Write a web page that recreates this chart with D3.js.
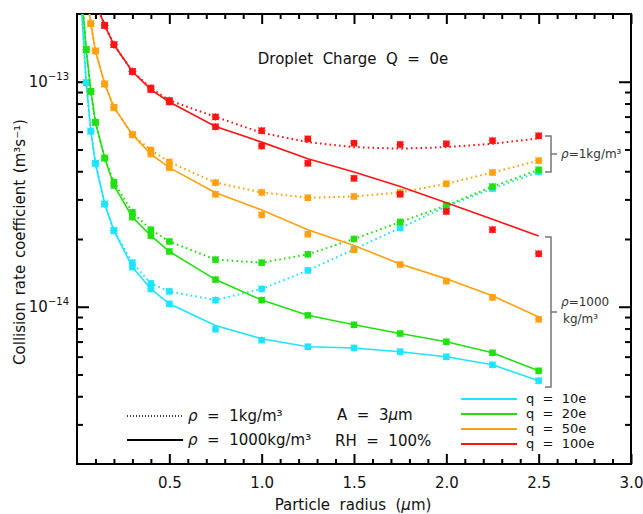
<!DOCTYPE html>
<html>
<head>
<meta charset="utf-8">
<script src="https://cdn.jsdelivr.net/npm/d3@7"></script>
<style>
  body { margin: 0; background: #fff; }
  text { font-family: "DejaVu Sans", sans-serif; fill: #111; white-space: pre; }
</style>
</head>
<body>
<div id="chart"></div>
<script>
// particle radius (um) where the curves were evaluated
const radius = [0.025, 0.05, 0.075, 0.1, 0.15, 0.2, 0.3, 0.4, 0.5, 0.75, 1.0, 1.25, 1.5, 1.75, 2.0, 2.25, 2.5];

// q = 10e
const cyanSolid    = [2.1e-13, 9.9e-14, 6.03e-14, 4.34e-14, 2.86e-14, 2.18e-14, 1.50e-14, 1.20e-14, 1.03e-14, 8.26e-15, 7.2e-15, 6.64e-15, 6.56e-15, 6.31e-15, 5.99e-15, 5.52e-15, 4.69e-15];
const cyanSolidPts = [null, 9.9e-14, 6.03e-14, 4.34e-14, 2.86e-14, 2.18e-14, 1.50e-14, 1.20e-14, 1.03e-14, 7.94e-15, 7.1e-15, 6.64e-15, 6.56e-15, 6.31e-15, 5.99e-15, 5.52e-15, 4.69e-15];
const cyanDot      = [2.1e-13, 9.9e-14, 6.03e-14, 4.34e-14, 2.86e-14, 2.18e-14, 1.57e-14, 1.27e-14, 1.17e-14, 1.07e-14, 1.20e-14, 1.45e-14, 1.80e-14, 2.24e-14, 2.79e-14, 3.35e-14, 3.97e-14];
const cyanDotPts   = [null, 9.9e-14, 6.03e-14, 4.34e-14, 2.86e-14, 2.18e-14, 1.57e-14, 1.27e-14, 1.17e-14, 1.07e-14, 1.20e-14, 1.45e-14, 1.80e-14, 2.24e-14, 2.79e-14, 3.35e-14, 3.97e-14];

// q = 20e
const greenSolid    = [2.47e-13, 1.39e-13, 9.06e-14, 6.6e-14, 4.58e-14, 3.46e-14, 2.50e-14, 2.07e-14, 1.76e-14, 1.32e-14, 1.07e-14, 9.16e-15, 8.31e-15, 7.60e-15, 6.99e-15, 6.24e-15, 5.19e-15];
const greenSolidPts = [null, 1.39e-13, 9.06e-14, 6.6e-14, 4.58e-14, 3.46e-14, 2.50e-14, 2.07e-14, 1.76e-14, 1.32e-14, 1.07e-14, 9.16e-15, 8.31e-15, 7.60e-15, 6.99e-15, 6.24e-15, 5.19e-15];
const greenDot      = [2.47e-13, 1.39e-13, 9.06e-14, 6.6e-14, 4.58e-14, 3.58e-14, 2.63e-14, 2.20e-14, 1.95e-14, 1.62e-14, 1.57e-14, 1.71e-14, 2.0e-14, 2.38e-14, 2.82e-14, 3.42e-14, 4.06e-14];
const greenDotPts   = [null, 1.39e-13, 9.06e-14, 6.6e-14, 4.58e-14, 3.58e-14, 2.63e-14, 2.20e-14, 1.95e-14, 1.62e-14, 1.57e-14, 1.71e-14, 2.0e-14, 2.38e-14, 2.82e-14, 3.42e-14, 4.06e-14];

// q = 50e
const orangeSolid    = [null, 2.55e-13, 1.81e-13, 1.37e-13, 9.77e-14, 7.69e-14, 5.82e-14, 4.77e-14, 4.15e-14, 3.21e-14, 2.69e-14, 2.20e-14, 1.87e-14, 1.55e-14, 1.33e-14, 1.12e-14, 9.0e-15];
const orangeSolidPts = [null, null, 1.81e-13, 1.37e-13, 9.77e-14, 7.69e-14, 5.82e-14, 4.77e-14, 4.15e-14, 3.16e-14, 2.56e-14, 2.10e-14, 1.79e-14, 1.54e-14, 1.30e-14, 1.10e-14, 8.79e-15];
const orangeDot      = [null, 2.55e-13, 1.81e-13, 1.37e-13, 9.77e-14, 7.69e-14, 5.82e-14, 4.97e-14, 4.40e-14, 3.56e-14, 3.22e-14, 3.05e-14, 3.09e-14, 3.22e-14, 3.52e-14, 3.95e-14, 4.46e-14];
const orangeDotPts   = [null, null, 1.81e-13, 1.37e-13, 9.77e-14, 7.69e-14, 5.82e-14, 4.97e-14, 4.40e-14, 3.56e-14, 3.22e-14, 3.05e-14, 3.09e-14, 3.22e-14, 3.52e-14, 3.95e-14, 4.46e-14];

// q = 100e
const redSolid    = [null, null, null, 2.26e-13, 1.78e-13, 1.46e-13, 1.11e-13, 9.22e-14, 8.13e-14, 6.32e-14, 5.39e-14, 4.55e-14, 3.97e-14, 3.42e-14, 2.90e-14, 2.45e-14, 2.06e-14];
const redSolidPts = [null, null, null, null, 1.78e-13, 1.46e-13, 1.11e-13, 9.22e-14, 8.13e-14, 6.31e-14, 5.18e-14, 4.34e-14, 3.72e-14, 3.16e-14, 2.65e-14, 2.20e-14, 1.72e-14];
const redDot      = [null, null, null, 2.26e-13, 1.78e-13, 1.46e-13, 1.11e-13, 9.38e-14, 8.26e-14, 6.98e-14, 5.93e-14, 5.39e-14, 5.12e-14, 5.04e-14, 5.12e-14, 5.30e-14, 5.60e-14];
const redDotPts   = [null, null, null, null, 1.78e-13, 1.46e-13, 1.11e-13, 9.38e-14, 8.26e-14, 6.98e-14, 6.06e-14, 5.57e-14, 5.33e-14, 5.26e-14, 5.30e-14, 5.47e-14, 5.75e-14];

const seriesLabels = ["q  =  10e", "q  =  20e", "q  =  50e", "q  =  100e"];
const seriesColors = ["#1ee4ff", "#22e010", "#ffa010", "#ff1414"];
const xMajor = [0.5, 1.0, 1.5, 2.0, 2.5, 3.0];
const yMajor = [1e-14, 1e-13];
const yMajorLabels = ["\u221214", "\u221213"];

const series = [
  {solid: cyanSolid, solidPts: cyanSolidPts, dot: cyanDot, dotPts: cyanDotPts},
  {solid: greenSolid, solidPts: greenSolidPts, dot: greenDot, dotPts: greenDotPts},
  {solid: orangeSolid, solidPts: orangeSolidPts, dot: orangeDot, dotPts: orangeDotPts},
  {solid: redSolid, solidPts: redSolidPts, dot: redDot, dotPts: redDotPts}
].map((s, i) => Object.assign(s, {label: seriesLabels[i], color: seriesColors[i]}));

const width = 643, height = 514;
const pLeft = 77, pRight = 631, pTop = 14, pBottom = 464;

const svg = d3.select("#chart").append("svg")
  .attr("width", width).attr("height", height);

const x = d3.scaleLinear().domain([0, 3]).range([pLeft, pRight]);
const y = d3.scaleLog().domain([2e-15, 2e-13]).range([pBottom, pTop]);

svg.append("clipPath").attr("id", "plot")
  .append("rect").attr("x", pLeft).attr("y", pTop)
  .attr("width", pRight - pLeft).attr("height", pBottom - pTop);

const xMinor = d3.range(1, 30).map(d => d / 10).filter(d => Math.abs(d * 2 - Math.round(d * 2)) > 1e-6);
const yMinor = [3e-15, 4e-15, 5e-15, 6e-15, 7e-15, 8e-15, 9e-15,
                2e-14, 3e-14, 4e-14, 5e-14, 6e-14, 7e-14, 8e-14, 9e-14];

function styleAxis(g) {
  g.select(".domain").remove();
  g.selectAll(".tick line").attr("stroke", "#000").attr("stroke-width", 2);
}

// inward ticks on all four sides
svg.append("g").attr("transform", `translate(0,${pBottom})`)
  .call(d3.axisBottom(x).tickValues(xMinor).tickSize(-5).tickFormat(""))
  .call(styleAxis);
svg.append("g").attr("transform", `translate(0,${pBottom})`)
  .call(d3.axisBottom(x).tickValues(xMajor).tickSize(-10).tickPadding(13).tickFormat(d3.format(".1f")))
  .call(styleAxis)
  .call(g => g.selectAll("text").attr("font-size", 15).style("fill", "#111"));
svg.append("g").attr("transform", `translate(0,${pTop})`)
  .call(d3.axisTop(x).tickValues(xMinor).tickSize(-5).tickFormat(""))
  .call(styleAxis);
svg.append("g").attr("transform", `translate(0,${pTop})`)
  .call(d3.axisTop(x).tickValues(xMajor).tickSize(-10).tickFormat(""))
  .call(styleAxis);

svg.append("g").attr("transform", `translate(${pLeft},0)`)
  .call(d3.axisLeft(y).tickValues(yMinor).tickSize(-6).tickFormat(""))
  .call(styleAxis);
svg.append("g").attr("transform", `translate(${pLeft},0)`)
  .call(d3.axisLeft(y).tickValues(yMajor).tickSize(-12).tickFormat(""))
  .call(styleAxis);
svg.append("g").attr("transform", `translate(${pRight},0)`)
  .call(d3.axisRight(y).tickValues(yMinor).tickSize(-6).tickFormat(""))
  .call(styleAxis);
svg.append("g").attr("transform", `translate(${pRight},0)`)
  .call(d3.axisRight(y).tickValues(yMajor).tickSize(-12).tickFormat(""))
  .call(styleAxis);

// y tick labels 10^-14, 10^-13
const yLab = svg.append("g").selectAll("text").data(yMajor).join("text")
  .attr("x", 69).attr("y", d => y(d) + 5)
  .attr("text-anchor", "end").attr("font-size", 15);
yLab.append("tspan").text("10");
yLab.append("tspan").attr("font-size", 10).attr("dy", -7).text((d, i) => yMajorLabels[i]);

// frame
svg.append("rect").attr("x", pLeft).attr("y", pTop)
  .attr("width", pRight - pLeft).attr("height", pBottom - pTop)
  .attr("fill", "none").attr("stroke", "#000").attr("stroke-width", 2);

// curves
const plot = svg.append("g").attr("clip-path", "url(#plot)");
const line = d3.line()
  .defined(d => d[1] != null)
  .x(d => x(d[0])).y(d => y(d[1]));
const pair = vals => radius.map((r, i) => [r, vals[i]]);

function marker(g, pts, color) {
  const m = g.append("g").selectAll("g")
    .data(pts.filter(d => d[1] != null)).join("g")
    .attr("transform", d => `translate(${x(d[0])},${y(d[1])})`);
  m.append("rect").attr("x", -3.2).attr("y", -3.2).attr("width", 6.4).attr("height", 6.4)
    .attr("fill", color);
  m.append("path").attr("d", "M-3.5,-3.5L3.5,3.5M-3.5,3.5L3.5,-3.5M0,-4V4M-4,0H4")
    .attr("stroke", color).attr("stroke-width", 1).attr("opacity", 0.6);
}

series.forEach(s => {
  plot.append("path").datum(pair(s.dot))
    .attr("d", line).attr("fill", "none")
    .attr("stroke", s.color).attr("stroke-width", 2)
    .attr("stroke-dasharray", "1.6,3.2");
  plot.append("path").datum(pair(s.solid))
    .attr("d", line).attr("fill", "none")
    .attr("stroke", s.color).attr("stroke-width", 1.6);
  marker(plot, pair(s.dotPts), s.color);
  marker(plot, pair(s.solidPts), s.color);
});

// title and axis titles
svg.append("text").attr("x", 353).attr("y", 64).attr("text-anchor", "middle")
  .attr("font-size", 15).text("Droplet  Charge  Q  =  0e");

const xt = svg.append("text").attr("x", 353).attr("y", 510).attr("text-anchor", "middle")
  .attr("font-size", 15);
xt.append("tspan").text("Particle  radius  (");
xt.append("tspan").attr("font-style", "italic").text("\u03bc");
xt.append("tspan").text("m)");

svg.append("text")
  .attr("transform", "translate(25,242) rotate(-90)")
  .attr("text-anchor", "middle").attr("font-size", 15).attr("word-spacing", 2)
  .text("Collision rate coefficient (m\u00b3s\u207b\u00b9)");

// density legend (lower left)
const densLeg = svg.append("g");
densLeg.append("line").attr("x1", 127).attr("x2", 183).attr("y1", 416).attr("y2", 416)
  .attr("stroke", "#000").attr("stroke-width", 1.5).attr("stroke-dasharray", "1,2");
densLeg.append("line").attr("x1", 127).attr("x2", 183).attr("y1", 440).attr("y2", 440)
  .attr("stroke", "#000").attr("stroke-width", 2);
const d1 = densLeg.append("text").attr("x", 188).attr("y", 421).attr("font-size", 15);
d1.append("tspan").attr("font-style", "italic").text("\u03c1");
d1.append("tspan").text("  =  1kg/m\u00b3");
const d2 = densLeg.append("text").attr("x", 188).attr("y", 445).attr("font-size", 15);
d2.append("tspan").attr("font-style", "italic").text("\u03c1");
d2.append("tspan").text("  =  1000kg/m\u00b3");

const a1 = densLeg.append("text").attr("x", 337).attr("y", 420).attr("font-size", 15);
a1.append("tspan").text("A  =  3");
a1.append("tspan").attr("font-style", "italic").text("\u03bc");
a1.append("tspan").text("m");
densLeg.append("text").attr("x", 335).attr("y", 446).attr("font-size", 15).text("RH  =  100%");

// charge legend (lower right)
const qLeg = svg.append("g").selectAll("g").data(series).join("g")
  .attr("transform", (d, i) => `translate(0,${399 + i * 15})`);
qLeg.append("line").attr("x1", 461).attr("x2", 517)
  .attr("stroke", d => d.color).attr("stroke-width", 2);
qLeg.append("text").attr("x", 526).attr("y", 4).attr("font-size", 13).text(d => d.label);

// density brackets on the right
function bracket(y0, y1) {
  const ym = (y0 + y1) / 2;
  svg.append("path")
    .attr("d", `M545,${y0}H551V${y1}H545M551,${ym}H557`)
    .attr("fill", "none").attr("stroke", "#777").attr("stroke-width", 1.5);
}
bracket(136, 172);
bracket(237, 387);
const b1 = svg.append("text").attr("x", 561).attr("y", 158).attr("font-size", 12).style("fill", "#333");
b1.append("tspan").attr("font-style", "italic").text("\u03c1");
b1.append("tspan").text("=1kg/m\u00b3");
const b2 = svg.append("text").attr("x", 561).attr("y", 306).attr("font-size", 12).style("fill", "#333");
b2.append("tspan").attr("font-style", "italic").text("\u03c1");
b2.append("tspan").text("=1000");
svg.append("text").attr("x", 563).attr("y", 323).attr("font-size", 12).style("fill", "#333").text("kg/m\u00b3");
</script>
</body>
</html>
